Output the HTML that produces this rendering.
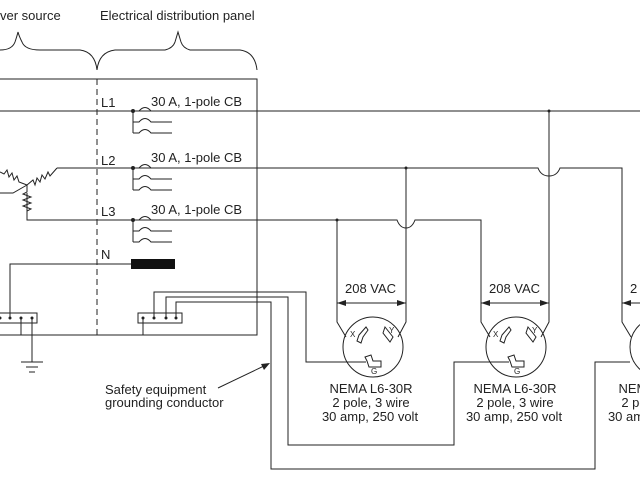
<!DOCTYPE html>
<html><head><meta charset="utf-8"><style>
html,body{margin:0;padding:0;background:#fff;}
svg{display:block}
text{font-family:"Liberation Sans",sans-serif;font-size:13px;fill:#222}
</style></head><body>
<svg width="640" height="480" viewBox="0 0 640 480" xmlns="http://www.w3.org/2000/svg">
<defs>
<g id="cb" fill="none" stroke="#222" stroke-width="1">
<line x1="0" y1="0" x2="0" y2="22"/>
<path d="M0 0 H6 Q12 -7 18 0"/>
<path d="M0 11 H6 Q12 4 18 11 H39"/>
<path d="M0 22 H6 Q12 15 18 22 H39"/>
<circle cx="0" cy="0" r="1.5" fill="#222"/>
</g>
<g id="rec" fill="none" stroke="#222" stroke-width="1">
<circle cx="0" cy="0" r="30"/>
<path d="M-14 -12 L-7 -20 L-5 -17 L-10 -10 L-12 -4 L-16 -6 Z"/>
<path d="M12 -20 L20 -10 L17 -5 L10 -14 Z"/>
<path d="M-8 10 L-2 8 L0 14 L8 14 L8 20 L-4 20 L-6 14 Z"/>
</g>
</defs>
<text x="0" y="20">ver source</text>
<text x="100" y="20">Electrical distribution panel</text>
<g fill="none" stroke="#222" stroke-width="1">
<path d="M0 50 Q12 50 15 42 Q17 36 18 32 Q19 36 22 42 Q25 50 40 50 L80 50 Q95 52 97 70"/>
<path d="M97 70 Q99 52 115 50 L165 50 Q173 48 175 42 L178 32 L181 42 Q183 48 190 50 L240 50 Q255 52 257 70"/>
<path d="M0 79 H257 V335 H0"/>
<line x1="97" y1="79" x2="97" y2="335" stroke-dasharray="6,4"/>
<line x1="0" y1="111" x2="640" y2="111"/>
<path d="M57 168 H538 Q541 176 549 176 Q557 176 560 168 H622 V322 L631 337"/>
<path d="M27 193 V220 H397 Q400 228 406 228 Q412 228 415 220 H481 V322 L490 337"/>
<path d="M0 172 L4 174 L7 170 L9 177 L12 173 L14 180 L17 176 L19 182 L27 185"/>
<path d="M27 185 L33 180 L35 185 L37 178 L40 182 L42 175 L45 179 L48 172 L50 176 L57 168"/>
<path d="M27 185 V192 L23 194 L31 197 L23 200 L31 203 L23 206 L31 209 L27 211 V220"/>
<path d="M0 193 H13 L27 185"/>
<path d="M337 220 V322 L346 337"/>
<path d="M406 168 V322 L398 337"/>
<path d="M549 111 V322 L541 337"/>
<path d="M10 318 V264 H131"/>
<rect x="-5" y="313" width="42" height="10"/>
<rect x="138" y="313" width="44" height="10"/>
<line x1="21" y1="318" x2="21" y2="335"/>
<line x1="32" y1="318" x2="32" y2="362"/>
<line x1="143" y1="318" x2="143" y2="335"/>
<line x1="21" y1="362" x2="43" y2="362"/>
<line x1="26" y1="367" x2="38" y2="367"/>
<line x1="29" y1="372" x2="35" y2="372"/>
<path d="M154 318 V292 H306 V362 H366"/>
<path d="M166 318 V297 H288 V445 H454 V362 H509"/>
<path d="M176 318 V302 H271 V469 H595 V362 H630"/>
<line x1="337" y1="303" x2="406" y2="303"/>
<line x1="481" y1="303" x2="549" y2="303"/>
<line x1="622" y1="303" x2="640" y2="303"/>
<path d="M218 388 L266 365"/>
</g>
<rect x="131" y="259" width="44" height="10" fill="#111"/>
<g fill="#222">
<circle cx="10" cy="318" r="1.5"/><circle cx="21" cy="318" r="1.5"/><circle cx="32" cy="318" r="1.5"/><circle cx="0" cy="318" r="1.5"/>
<circle cx="143" cy="318" r="1.5"/><circle cx="154" cy="318" r="1.5"/><circle cx="166" cy="318" r="1.5"/><circle cx="176" cy="318" r="1.5"/>
<circle cx="337" cy="220" r="1.5"/><circle cx="406" cy="168" r="1.5"/><circle cx="549" cy="111" r="1.5"/>
<path d="M337 303 L346 300 L346 306 Z"/><path d="M406 303 L397 300 L397 306 Z"/>
<path d="M481 303 L490 300 L490 306 Z"/><path d="M549 303 L540 300 L540 306 Z"/>
<path d="M622 303 L631 300 L631 306 Z"/>
<path d="M270 363 L261 364 L264 370 Z"/>
</g>
<use href="#cb" x="133" y="111"/>
<use href="#cb" x="133" y="168"/>
<use href="#cb" x="133" y="220"/>
<use href="#rec" x="373" y="347"/>
<use href="#rec" x="516" y="347"/>
<use href="#rec" x="660" y="347"/>
<text x="101" y="107">L1</text><text x="151" y="106">30 A, 1-pole CB</text>
<text x="101" y="165">L2</text><text x="151" y="162">30 A, 1-pole CB</text>
<text x="101" y="216">L3</text><text x="151" y="214">30 A, 1-pole CB</text>
<text x="101" y="259">N</text>
<text x="345" y="293">208 VAC</text>
<text x="489" y="293">208 VAC</text>
<text x="630" y="293">2</text>
<text x="350" y="337" style="font-size:8px">X</text><text x="389" y="333" style="font-size:8px">Y</text><text x="371" y="374" style="font-size:8px">G</text>
<text x="493" y="337" style="font-size:8px">X</text><text x="532" y="333" style="font-size:8px">Y</text><text x="514" y="374" style="font-size:8px">G</text>
<g text-anchor="middle">
<text x="371" y="393">NEMA L6-30R</text><text x="371" y="407">2 pole, 3 wire</text><text x="370" y="421">30 amp, 250 volt</text>
<text x="515" y="393">NEMA L6-30R</text><text x="515" y="407">2 pole, 3 wire</text><text x="514" y="421">30 amp, 250 volt</text>
<text x="660" y="393">NEMA L6-30R</text><text x="660" y="407">2 pole, 3 wire</text><text x="656" y="421">30 amp, 250 volt</text>
</g>
<text x="105" y="394">Safety equipment</text>
<text x="105" y="407">grounding conductor</text>
</svg>
</body></html>
